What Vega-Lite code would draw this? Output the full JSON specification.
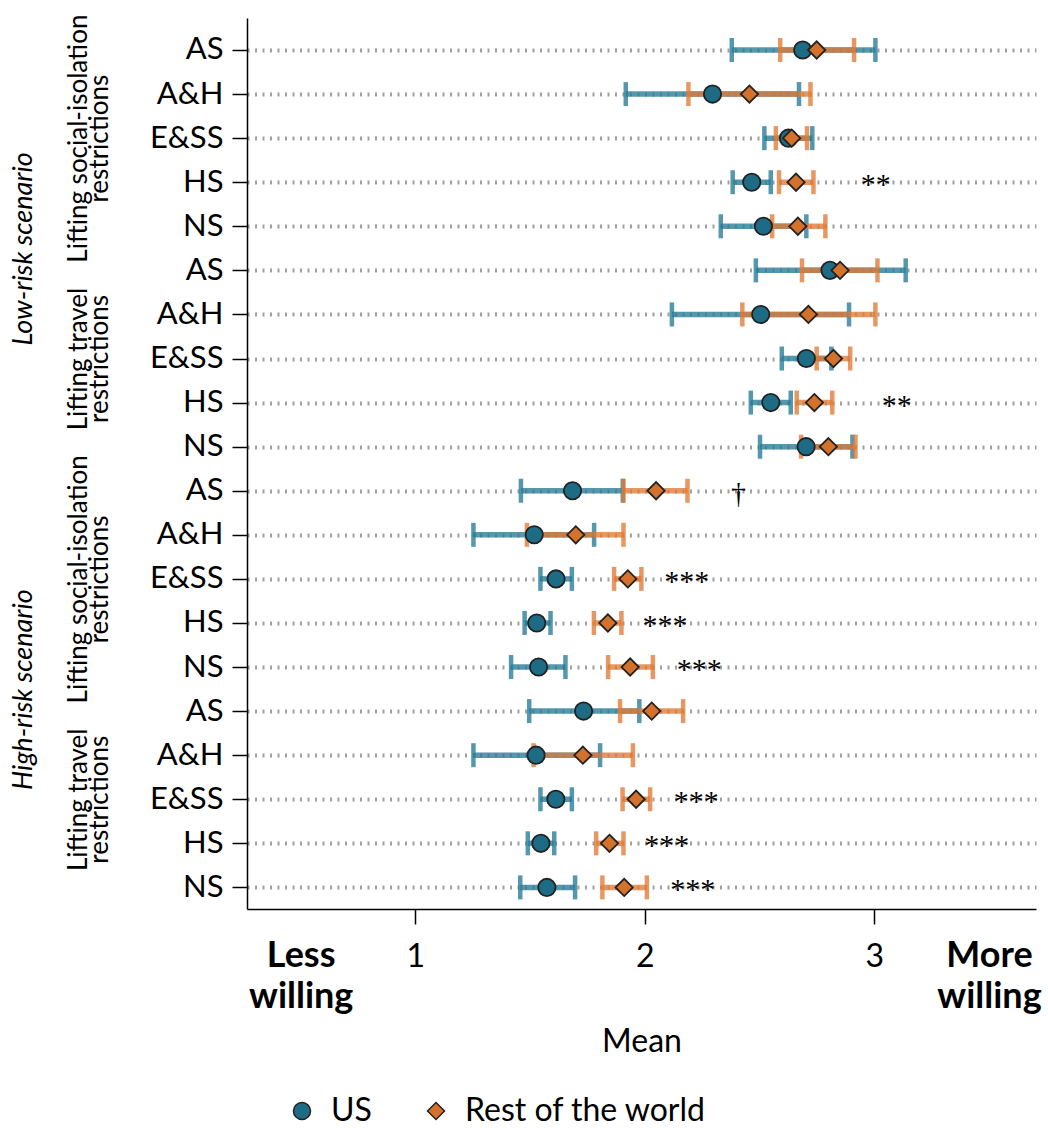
{
  "$schema": "https://vega.github.io/schema/vega-lite/v6.json",
  "width": 789,
  "height": 891,
  "autosize": {"type": "none"},
  "padding": {"left": 247, "top": 18, "right": 12, "bottom": 219},
  "config": {
    "font": "Lato",
    "view": {"stroke": null},
    "axis": {"labelColor": "#000", "titleColor": "#000"},
    "legend": {"labelColor": "#000"}
  },
  "datasets": {
    "est": [
      {"row": 1, "grp": "US", "mean": 2.688, "lo": 2.379, "hi": 3.005},
      {"row": 2, "grp": "US", "mean": 2.295, "lo": 1.917, "hi": 2.672},
      {"row": 3, "grp": "US", "mean": 2.626, "lo": 2.521, "hi": 2.730},
      {"row": 4, "grp": "US", "mean": 2.466, "lo": 2.383, "hi": 2.549},
      {"row": 5, "grp": "US", "mean": 2.517, "lo": 2.331, "hi": 2.704},
      {"row": 6, "grp": "US", "mean": 2.807, "lo": 2.484, "hi": 3.137},
      {"row": 7, "grp": "US", "mean": 2.505, "lo": 2.118, "hi": 2.890},
      {"row": 8, "grp": "US", "mean": 2.704, "lo": 2.597, "hi": 2.813},
      {"row": 9, "grp": "US", "mean": 2.549, "lo": 2.462, "hi": 2.636},
      {"row": 10, "grp": "US", "mean": 2.703, "lo": 2.502, "hi": 2.905},
      {"row": 11, "grp": "US", "mean": 1.685, "lo": 1.460, "hi": 1.904},
      {"row": 12, "grp": "US", "mean": 1.518, "lo": 1.253, "hi": 1.779},
      {"row": 13, "grp": "US", "mean": 1.613, "lo": 1.545, "hi": 1.682},
      {"row": 14, "grp": "US", "mean": 1.529, "lo": 1.476, "hi": 1.589},
      {"row": 15, "grp": "US", "mean": 1.537, "lo": 1.417, "hi": 1.654},
      {"row": 16, "grp": "US", "mean": 1.733, "lo": 1.496, "hi": 1.976},
      {"row": 17, "grp": "US", "mean": 1.526, "lo": 1.253, "hi": 1.805},
      {"row": 18, "grp": "US", "mean": 1.612, "lo": 1.545, "hi": 1.682},
      {"row": 19, "grp": "US", "mean": 1.547, "lo": 1.490, "hi": 1.605},
      {"row": 20, "grp": "US", "mean": 1.573, "lo": 1.457, "hi": 1.696},
      {"row": 1, "grp": "Rest of the world", "mean": 2.749, "lo": 2.590, "hi": 2.912},
      {"row": 2, "grp": "Rest of the world", "mean": 2.456, "lo": 2.190, "hi": 2.722},
      {"row": 3, "grp": "Rest of the world", "mean": 2.640, "lo": 2.571, "hi": 2.707},
      {"row": 4, "grp": "Rest of the world", "mean": 2.659, "lo": 2.585, "hi": 2.735},
      {"row": 5, "grp": "Rest of the world", "mean": 2.667, "lo": 2.555, "hi": 2.787},
      {"row": 6, "grp": "Rest of the world", "mean": 2.851, "lo": 2.685, "hi": 3.014},
      {"row": 7, "grp": "Rest of the world", "mean": 2.713, "lo": 2.425, "hi": 3.005},
      {"row": 8, "grp": "Rest of the world", "mean": 2.822, "lo": 2.749, "hi": 2.895},
      {"row": 9, "grp": "Rest of the world", "mean": 2.739, "lo": 2.662, "hi": 2.817},
      {"row": 10, "grp": "Rest of the world", "mean": 2.800, "lo": 2.681, "hi": 2.918},
      {"row": 11, "grp": "Rest of the world", "mean": 2.049, "lo": 1.907, "hi": 2.186},
      {"row": 12, "grp": "Rest of the world", "mean": 1.699, "lo": 1.486, "hi": 1.907},
      {"row": 13, "grp": "Rest of the world", "mean": 1.926, "lo": 1.866, "hi": 1.985},
      {"row": 14, "grp": "Rest of the world", "mean": 1.839, "lo": 1.778, "hi": 1.898},
      {"row": 15, "grp": "Rest of the world", "mean": 1.936, "lo": 1.840, "hi": 2.035},
      {"row": 16, "grp": "Rest of the world", "mean": 2.030, "lo": 1.892, "hi": 2.167},
      {"row": 17, "grp": "Rest of the world", "mean": 1.730, "lo": 1.515, "hi": 1.948},
      {"row": 18, "grp": "Rest of the world", "mean": 1.962, "lo": 1.903, "hi": 2.023},
      {"row": 19, "grp": "Rest of the world", "mean": 1.846, "lo": 1.788, "hi": 1.907},
      {"row": 20, "grp": "Rest of the world", "mean": 1.910, "lo": 1.815, "hi": 2.009}
    ],
    "sig": [
      {"row": 4, "sig": "**", "at": 3.007},
      {"row": 9, "sig": "**", "at": 3.098},
      {"row": 11, "sig": "†", "at": 2.408},
      {"row": 13, "sig": "***", "at": 2.183},
      {"row": 14, "sig": "***", "at": 2.088},
      {"row": 15, "sig": "***", "at": 2.237},
      {"row": 18, "sig": "***", "at": 2.224},
      {"row": 19, "sig": "***", "at": 2.096},
      {"row": 20, "sig": "***", "at": 2.209}
    ]
  },
  "layer": [
    {
      "data": {"name": "est"},
      "transform": [{"filter": "datum.grp === 'US'"}],
      "mark": {"type": "rule", "strokeWidth": 5.5, "opacity": 0.8, "color": "#2b7d99"},
      "encoding": {
        "y": {
          "field": "row", "type": "quantitative",
          "scale": {"domain": [0.274, 20.49], "reverse": true, "nice": false, "zero": false},
          "axis": {
            "orient": "left",
            "values": [1,2,3,4,5,6,7,8,9,10,11,12,13,14,15,16,17,18,19,20],
            "labelExpr": "['AS','A&H','E&SS','HS','NS'][(datum.value-1)%5]",
            "title": null,
            "grid": true, "gridDash": [2, 5.5], "gridColor": "#a0a0a0", "gridWidth": 4,
            "domainColor": "#000", "domainWidth": 1.5,
            "tickColor": "#000", "tickWidth": 1.5, "tickSize": 15,
            "labelFontSize": 31, "labelPadding": 9, "labelOverlap": false
          }
        },
        "x": {
          "field": "lo", "type": "quantitative",
          "scale": {"domain": [0.266, 3.705], "nice": false, "zero": false},
          "axis": {
            "orient": "bottom",
            "values": [1, 2, 3],
            "format": "d",
            "title": "Mean", "titleFontSize": 32, "titleFontWeight": "normal", "titlePadding": 54,
            "labelFontSize": 32, "labelPadding": 17, "labelBaseline": "top",
            "labelFlush": false, "labelOverlap": false,
            "tickSize": 15, "tickWidth": 1.5, "tickColor": "#000",
            "domainColor": "#000", "domainWidth": 1.5, "grid": false
          }
        },
        "x2": {"field": "hi"}
      }
    },
    {
      "data": {"name": "est"},
      "transform": [{"filter": "datum.grp === 'US'"}, {"fold": ["lo", "hi"], "as": ["end", "val"]}],
      "mark": {"type": "tick", "orient": "vertical", "size": 24, "thickness": 4.5, "opacity": 0.8, "color": "#2b7d99"},
      "encoding": {
        "y": {
          "field": "row", "type": "quantitative",
          "axis": {
            "orient": "left",
            "values": [3, 8, 13, 18],
            "labelExpr": "(datum.value == 3 || datum.value == 13) ? ['Lifting social-isolation','restrictions'] : ['Lifting travel','restrictions']",
            "labelAngle": -90, "labelAlign": "center", "labelBaseline": "middle",
            "labelFontSize": 26, "labelLineHeight": 21, "labelLimit": 0,
            "labelPadding": 169, "ticks": false, "tickSize": 0, "domain": false, "grid": false,
            "title": null, "labelOverlap": false
          }
        },
        "x": {
          "field": "val", "type": "quantitative",
          "axis": {
            "orient": "bottom",
            "values": [0.5, 3.5],
            "labelExpr": "datum.value < 2 ? ['Less','willing'] : ['More','willing']",
            "labelFontWeight": "bold", "labelFontSize": 36, "labelLineHeight": 41, "labelPadding": 29,
            "labelBaseline": "top",
            "labelFlush": false, "labelOverlap": false, "labelLimit": 0,
            "ticks": false, "tickSize": 15, "domain": false, "grid": false, "title": null
          }
        }
      }
    },
    {
      "data": {"name": "est"},
      "transform": [{"filter": "datum.grp !== 'US'"}],
      "mark": {"type": "rule", "strokeWidth": 5.5, "opacity": 0.78, "color": "#e07a36"},
      "encoding": {
        "y": {"field": "row", "type": "quantitative", "axis": null},
        "x": {"field": "lo", "type": "quantitative", "axis": null},
        "x2": {"field": "hi"}
      }
    },
    {
      "data": {"name": "est"},
      "transform": [{"filter": "datum.grp !== 'US'"}, {"fold": ["lo", "hi"], "as": ["end", "val"]}],
      "mark": {"type": "tick", "orient": "vertical", "size": 24, "thickness": 4.5, "opacity": 0.78, "color": "#e07a36"},
      "encoding": {
        "y": {"field": "row", "type": "quantitative", "axis": null},
        "x": {"field": "val", "type": "quantitative", "axis": null}
      }
    },
    {
      "data": {"name": "est"},
      "mark": {"type": "point", "filled": true, "size": 300, "stroke": "#222", "strokeWidth": 1.8, "opacity": 1},
      "encoding": {
        "y": {
          "field": "row", "type": "quantitative",
          "axis": {
            "orient": "left",
            "values": [5.5, 15.5],
            "labelExpr": "datum.value < 10 ? 'Low-risk scenario' : 'High-risk scenario'",
            "labelAngle": -90, "labelAlign": "center", "labelBaseline": "middle",
            "labelFontSize": 27, "labelFontStyle": "italic", "labelLimit": 0,
            "labelPadding": 224, "ticks": false, "tickSize": 0, "domain": false, "grid": false,
            "title": null, "labelOverlap": false
          }
        },
        "x": {"field": "mean", "type": "quantitative", "axis": null},
        "color": {
          "field": "grp", "type": "nominal",
          "scale": {"domain": ["US", "Rest of the world"], "range": ["#1d6b84", "#d4722c"]},
          "legend": {
            "orient": "none", "legendX": 39, "legendY": 1077, "direction": "horizontal",
            "title": null, "labelFontSize": 32, "labelOffset": 13, "columnPadding": 48, "labelLimit": 0,
            "symbolSize": 290, "symbolStrokeColor": "#222", "symbolStrokeWidth": 1.5
          }
        },
        "shape": {
          "field": "grp", "type": "nominal",
          "scale": {"domain": ["US", "Rest of the world"], "range": ["circle", "diamond"]},
          "legend": {
            "orient": "none", "legendX": 39, "legendY": 1077, "direction": "horizontal",
            "title": null, "labelFontSize": 32, "labelOffset": 13, "columnPadding": 48, "labelLimit": 0,
            "symbolSize": 290, "symbolStrokeColor": "#222", "symbolStrokeWidth": 1.5
          }
        }
      }
    },
    {
      "data": {"name": "sig"},
      "mark": {"type": "text", "font": "Liberation Serif", "fontSize": 30, "dy": 3, "align": "center", "baseline": "middle", "color": "#000"},
      "encoding": {
        "y": {"field": "row", "type": "quantitative", "axis": null},
        "x": {"field": "at", "type": "quantitative", "axis": null},
        "text": {"field": "sig"}
      }
    }
  ],
  "resolve": {"axis": {"y": "independent", "x": "independent"}}
}
